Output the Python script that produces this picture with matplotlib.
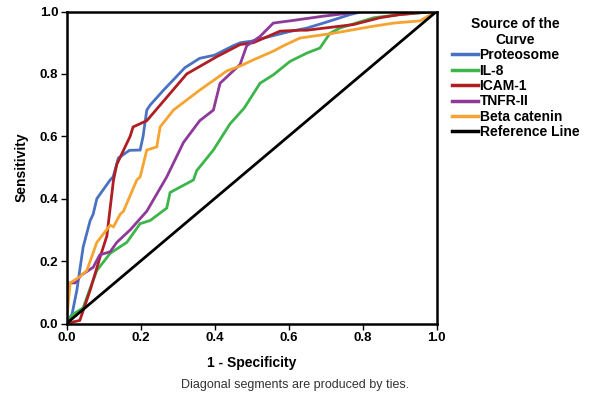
import matplotlib.pyplot as plt

plt.rcParams['font.family'] = ['Liberation Sans', 'DejaVu Sans']

# ROC curves (1 - specificity, sensitivity)
prot_x = [0.0, 0.015, 0.028, 0.045, 0.064, 0.072, 0.082, 0.118, 0.126, 0.14, 0.17, 0.199,
          0.207, 0.217, 0.226, 0.26, 0.288, 0.32, 0.36, 0.40, 0.45, 0.47, 0.50, 0.55, 0.60,
          0.65, 0.70, 0.766, 0.80, 1.0]
prot_y = [0.0, 0.03, 0.107, 0.245, 0.33, 0.35, 0.40, 0.46, 0.47, 0.53, 0.555, 0.556,
          0.60, 0.684, 0.70, 0.745, 0.78, 0.82, 0.85, 0.86, 0.89, 0.90, 0.905, 0.92, 0.935,
          0.947, 0.965, 0.99, 1.0, 1.0]

il8_x = [0.0, 0.018, 0.045, 0.06, 0.082, 0.118, 0.163, 0.199, 0.226, 0.271, 0.28, 0.343,
         0.352, 0.397, 0.442, 0.48, 0.523, 0.559, 0.604, 0.65, 0.685, 0.712, 0.739, 0.83,
         0.90, 1.0]
il8_y = [0.0, 0.03, 0.05, 0.10, 0.17, 0.225, 0.26, 0.32, 0.33, 0.37, 0.42, 0.46,
         0.49, 0.556, 0.64, 0.69, 0.77, 0.797, 0.84, 0.867, 0.883, 0.93, 0.947, 0.98,
         0.99, 1.0]

icam_x = [0.0, 0.036, 0.064, 0.09, 0.109, 0.118, 0.127, 0.136, 0.172, 0.18, 0.217, 0.253,
          0.325, 0.406, 0.469, 0.505, 0.577, 0.63, 0.649, 0.775, 0.847, 0.90, 0.99, 1.0]
icam_y = [0.0, 0.01, 0.107, 0.21, 0.28, 0.37, 0.46, 0.51, 0.60, 0.63, 0.65, 0.70,
          0.80, 0.855, 0.894, 0.90, 0.937, 0.94, 0.94, 0.958, 0.98, 0.99, 1.0, 1.0]

tnfr_x = [0.0, 0.004, 0.023, 0.04, 0.072, 0.09, 0.118, 0.136, 0.172, 0.217, 0.271, 0.316,
          0.36, 0.397, 0.415, 0.469, 0.487, 0.523, 0.559, 0.604, 0.694, 0.766, 0.80, 1.0]
tnfr_y = [0.0, 0.13, 0.13, 0.155, 0.18, 0.22, 0.23, 0.26, 0.30, 0.36, 0.47, 0.58,
          0.65, 0.684, 0.77, 0.83, 0.89, 0.92, 0.963, 0.97, 0.985, 0.995, 1.0, 1.0]

beta_x = [0.0, 0.005, 0.01, 0.036, 0.055, 0.082, 0.118, 0.127, 0.145, 0.154, 0.19, 0.199,
          0.217, 0.244, 0.253, 0.289, 0.36, 0.434, 0.469, 0.505, 0.559, 0.586, 0.631, 0.72,
          0.83, 0.885, 0.955, 1.0]
beta_y = [0.0, 0.07, 0.13, 0.15, 0.17, 0.26, 0.315, 0.31, 0.35, 0.36, 0.46, 0.47,
          0.556, 0.566, 0.63, 0.684, 0.748, 0.81, 0.825, 0.845, 0.873, 0.89, 0.915, 0.93,
          0.953, 0.963, 0.97, 1.0]

ref_x = [0.0, 1.0]
ref_y = [0.0, 1.0]

labels = ["Proteosome", "IL-8", "ICAM-1", "TNFR-II", "Beta catenin", "Reference Line"]
colors = ["#4a72c2", "#3cb54a", "#b01e23", "#8e3a99", "#f5a431", "#000000"]
ticks = [0.0, 0.2, 0.4, 0.6, 0.8, 1.0]

fig = plt.figure(figsize=(5.96, 3.94), dpi=100)
ax = fig.add_axes([66.5 / 596, 1 - 323.5 / 394, 370 / 596, 312 / 394])

series = [(prot_x, prot_y), (il8_x, il8_y), (icam_x, icam_y),
          (tnfr_x, tnfr_y), (beta_x, beta_y), (ref_x, ref_y)]
for (xs, ys), lab, c in zip(series, labels, colors):
    ax.plot(xs, ys, color=c, lw=2.0, label=lab, solid_joinstyle='miter')

ax.set_xlim(0, 1)
ax.set_ylim(0, 1)
ax.set_xticks(ticks)
ax.set_yticks(ticks)
ax.set_xticklabels([f"{t:.1f}" for t in ticks], fontsize=9.5, fontweight='bold')
ax.set_yticklabels([f"{t:.1f}" for t in ticks], fontsize=9.5, fontweight='bold')
ax.tick_params(direction='out', length=4, width=1, pad=2)
for sp in ax.spines.values():
    sp.set_linewidth(1.8)

ax.set_xlabel("1 - Specificity", fontsize=10, fontweight='bold', labelpad=9)
ax.set_ylabel("Sensitivity", fontsize=10, fontweight='bold', labelpad=8)

leg = fig.legend(*ax.get_legend_handles_labels(), loc='upper left',
                 bbox_to_anchor=(442 / 596, 1 - 7 / 394), frameon=False,
                 title="Source of the\nCurve", handlelength=1.9, handletextpad=0.1,
                 labelspacing=0.1, borderpad=0.2,
                 prop={'size': 10, 'weight': 'bold'},
                 title_fontproperties={'size': 10, 'weight': 'bold'})
leg._legend_box.align = "center"
leg.get_title().set_multialignment('center')
for h in leg.get_lines():
    h.set_linewidth(2.5)

fig.text(295 / 596, 1 - 385 / 394, "Diagonal segments are produced by ties.",
         fontsize=9, color='#333333', ha='center', va='center')

fig.savefig("out.png", dpi=100)
